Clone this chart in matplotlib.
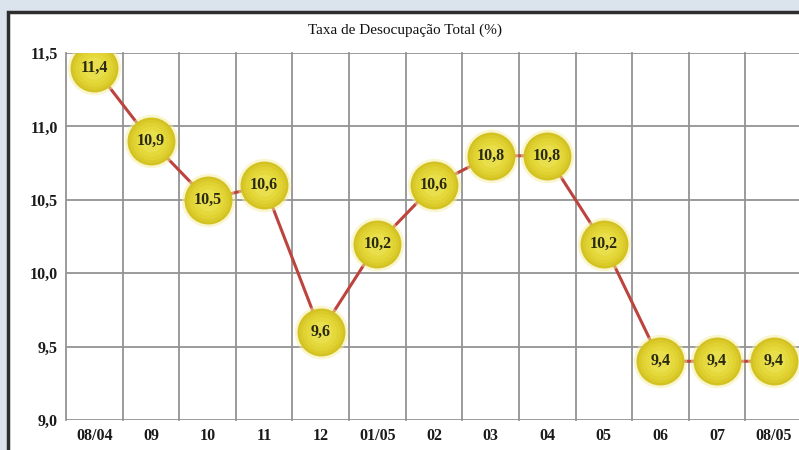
import numpy as np
import matplotlib.pyplot as plt
from matplotlib.patches import Rectangle

# Taxa de desocupação total, agosto/2004 a agosto/2005
meses = ["08/04", "09", "10", "11", "12", "01/05", "02", "03", "04", "05", "06", "07", "08/05"]
taxas = [11.4, 10.9, 10.5, 10.6, 9.6, 10.2, 10.6, 10.8, 10.8, 10.2, 9.4, 9.4, 9.4]
yticks = [9.0, 9.5, 10.0, 10.5, 11.0, 11.5]

fig = plt.figure(figsize=(7.99, 4.5), dpi=100)
fig.patch.set_facecolor("#dbe4ec")

# painel branco com moldura escura
painel = Rectangle((8 / 799, -0.05), 1.1, 0.05 + 438 / 450, transform=fig.transFigure,
                   facecolor="white", edgecolor="#2e2e2e", linewidth=2.5, zorder=-5)
fig.patches.append(painel)

fig.text(405 / 799, 1 - 30 / 450, "Taxa de Desocupação Total (%)", ha="center", va="center",
         family="Liberation Serif", fontsize=11, color="#111111")

ax = fig.add_axes([66 / 799, 30 / 450, (802 - 66) / 799, 367 / 450])
ax.set_zorder(2)
ax.set_facecolor("white")
x = np.arange(len(meses))
ax.set_xlim(-0.5, len(meses) - 0.5)
ax.set_ylim(9.0, 11.5)

# grade
for xv in np.arange(-0.5, len(meses), 1.0):
    ax.axvline(xv, color="#939393", lw=1.3, zorder=1, clip_on=False)
for yv in yticks:
    ax.axhline(yv, color="#939393", lw=1.3, zorder=1)

ax.plot(x, taxas, color="#bd433d", lw=2.2, zorder=2)

# bolas amarelas com leve halo e sombreamento radial
ax.plot(x, taxas, "o", ms=38.5, color="#f4efa0", alpha=0.5, mec="none", zorder=3)
ax.plot(x, taxas, "o", ms=34.5, mfc="#d3c222", mec="none", zorder=4)
for tam, cor in [(31, "#dacb2a"), (27, "#dfd232"), (22, "#e4d83b"), (16, "#e9df4c")]:
    ax.plot(x, taxas, "o", ms=tam, mfc=cor, mec="none", zorder=5)

for xi, v in zip(x, taxas):
    ax.text(xi, v, f"{v:.1f}".replace(".", ","), ha="center", va="center",
            family="Liberation Serif", fontweight="bold", fontsize=11.5,
            color="#2a2a12", zorder=6)

ax.set_xticks(x)
ax.set_xticklabels(meses)
ax.set_yticks(yticks)
ax.set_yticklabels([f"{v:.1f}".replace(".", ",") for v in yticks])
ax.tick_params(length=0, pad=6, labelsize=11.5, colors="#1a1a1a")
for lbl in ax.get_xticklabels() + ax.get_yticklabels():
    lbl.set_family("Liberation Serif")
    lbl.set_fontweight("bold")
for s in ax.spines.values():
    s.set_visible(False)

fig.savefig("out.png", dpi=100, facecolor=fig.get_facecolor())
